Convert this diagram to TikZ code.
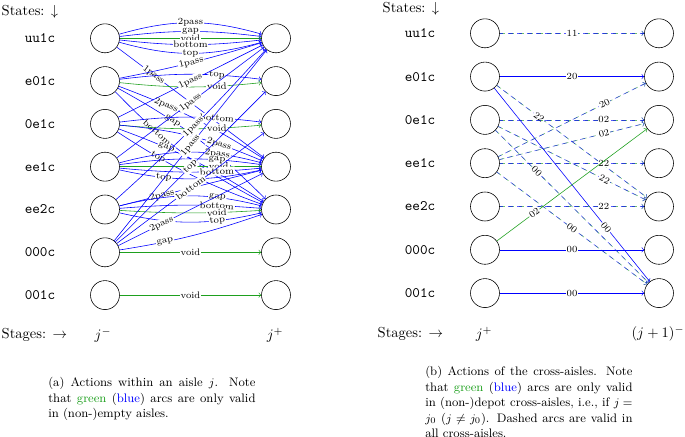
\documentclass[tikz,border=0pt]{standalone}
\usepackage{amsmath}
\definecolor{mygreen}{RGB}{30,160,30}
\begin{document}
\begin{tikzpicture}[x=0.69pt,y=-0.69pt,
  st/.style={circle,draw,minimum size=20pt,inner sep=0pt},
  stname/.style={font=\ttfamily,inner sep=1pt},
  txt/.style={inner sep=1pt},
  lbl/.style={font=\fontsize{6.5}{7}\selectfont,fill=white,inner sep=0.6pt,sloped},
  bl/.style={->,draw=blue},
  gr/.style={->,draw=mygreen},
  dsh/.style={->,draw=blue,draw opacity=0.65,dash pattern=on 3.5pt off 3pt,dash phase=1pt,
    preaction={draw=mygreen,draw opacity=0.65,dash pattern=on 3.5pt off 3pt,dash phase=0pt}},
  captext/.style={anchor=north west,inner sep=0pt,text width=143pt,align=justify,font=\fontsize{8.5}{10.7}\selectfont}
]
\useasboundingbox (0,0) rectangle (685,437);

% ---------- captions and texts ----------
\node[captext] (capa) at (48,377) {(a) Actions within an aisle $j$. Note that \textcolor{mygreen}{green} (\textcolor{blue}{blue}) arcs are only valid in (non-)empty aisles.};
\node[captext] (capb) at (425,366) {(b) Actions of the cross-aisles. Note that \textcolor{mygreen}{green} (\textcolor{blue}{blue}) arcs are only valid\linebreak in (non-)depot cross-aisles, i.e., if $j =$\linebreak $j_0$ ($j \neq j_0$). Dashed arcs are valid in\linebreak all cross-aisles.};

\node[txt,anchor=west] (stA) at (0,12) {States: $\downarrow$};
\node[txt,anchor=west] (sgA) at (0,335) {Stages: $\rightarrow$};
\node[txt] (jm) at (103,335) {$j^-$};
\node[txt] (jp) at (275,335) {$j^+$};
\node[txt,anchor=west] (stB) at (381,9) {States: $\downarrow$};
\node[txt,anchor=west] (sgB) at (376,334) {Stages: $\rightarrow$};
\node[txt] (jp2) at (484,334) {$j^+$};
\node[txt] (jn) at (658,334) {$(j+1)^-$};

% ---------- (a) ----------
\node[stname] (ta1) at (40,38.3) {uu1c};
\node[stname] (ta2) at (40,81.1) {e01c};
\node[stname] (ta3) at (40,123.9) {0e1c};
\node[stname] (ta4) at (40,166.7) {ee1c};
\node[stname] (ta5) at (40,209.5) {ee2c};
\node[stname] (ta6) at (40,252.3) {000c};
\node[stname] (ta7) at (40,295.1) {001c};

\node[st] (ai1) at (105,38.3) {};
\node[st] (ai2) at (105,81.1) {};
\node[st] (ai3) at (105,123.9) {};
\node[st] (ai4) at (105,166.7) {};
\node[st] (ai5) at (105,209.5) {};
\node[st] (ai6) at (105,252.3) {};
\node[st] (ai7) at (105,295.1) {};
\node[st] (ao1) at (276,38.3) {};
\node[st] (ao2) at (276,81.1) {};
\node[st] (ao3) at (276,123.9) {};
\node[st] (ao4) at (276,166.7) {};
\node[st] (ao5) at (276,209.5) {};
\node[st] (ao6) at (276,252.3) {};
\node[st] (ao7) at (276,295.1) {};

% 001c
\draw[gr] (ai7) -- node[lbl]{void} (ao7);
% uu1c
\draw[bl] (ai1) to[bend left=16] node[lbl]{2pass} (ao1);
\draw[bl] (ai1) to[bend left=7] node[lbl]{gap} (ao1);
\draw[gr] (ai1) -- node[lbl]{void} (ao1);
\draw[bl] (ai1) to[bend right=6.5] node[lbl]{bottom} (ao1);
\draw[bl] (ai1) to[bend right=15.5] node[lbl]{top} (ao1);
\draw[bl] (ai1) -- node[lbl,pos=0.25]{1pass} (ao4);
% e01c
\draw[bl] (ai2) to[bend right=3] node[lbl]{1pass} (ao1);
\draw[bl] (ai2) to[bend left=7] node[lbl,pos=0.7]{top} (ao2);
\draw[gr] (ai2) to[bend right=6] node[lbl,pos=0.7]{void} (ao2);
\draw[bl] (ai2) to[bend left=6] node[lbl,pos=0.3]{2pass} (ao4);
\draw[bl] (ai2) to[bend left=8] node[lbl,pos=0.33]{gap} (ao5);
\draw[bl] (ai2) to[bend right=9] node[lbl,pos=0.3]{bottom} (ao5);
% 0e1c
\draw[bl] (ai3) -- node[lbl]{1pass} (ao1);
\draw[bl] (ai3) to[bend left=7] node[lbl,pos=0.7]{bottom} (ao3);
\draw[gr] (ai3) to[bend right=5] node[lbl,pos=0.7]{void} (ao3);
\draw[bl] (ai3) to[bend left=9] node[lbl,pos=0.7]{2pass} (ao4);
\draw[bl] (ai3) to[bend left=6.5] node[lbl,pos=0.3]{gap} (ao5);
\draw[bl] (ai3) to[bend right=6.5] node[lbl,pos=0.28]{top} (ao5);
% ee1c
\draw[bl] (ai4) -- node[lbl]{1pass} (ao1);
\draw[bl] (ai4) to[bend left=15] node[lbl,pos=0.7]{2pass} (ao4);
\draw[bl] (ai4) to[bend left=8] node[lbl,pos=0.7]{gap} (ao4);
\draw[gr] (ai4) -- node[lbl,pos=0.7]{void} (ao4);
\draw[bl] (ai4) to[bend right=5.5] node[lbl,pos=0.7]{bottom} (ao4);
\draw[bl] (ai4) to[bend right=12.5] node[lbl,pos=0.3]{top} (ao4);
% ee2c
\draw[bl] (ai5) to[bend right=3] node[lbl]{1pass} (ao1);
\draw[bl] (ai5) -- node[lbl,pos=0.3]{2pass} (ao4);
\draw[bl] (ai5) to[bend left=14] node[lbl,pos=0.7]{gap} (ao5);
\draw[bl] (ai5) to[bend left=4.5] node[lbl,pos=0.7]{bottom} (ao5);
\draw[gr] (ai5) to[bend right=3.5] node[lbl,pos=0.7]{void} (ao5);
\draw[bl] (ai5) to[bend right=13] node[lbl,pos=0.7]{top} (ao5);
% 000c
\draw[bl] (ai6) -- node[lbl]{1pass} (ao1);
\draw[bl] (ai6) -- node[lbl]{top} (ao2);
\draw[bl] (ai6) -- node[lbl]{bottom} (ao3);
\draw[bl] (ai6) -- node[lbl,pos=0.3]{2pass} (ao4);
\draw[bl] (ai6) to[bend right=5] node[lbl,pos=0.3]{gap} (ao5);
\draw[gr] (ai6) -- node[lbl]{void} (ao6);

% ---------- (b) ----------
\node[stname] (tb1) at (420,33.3) {uu1c};
\node[stname] (tb2) at (420,76.6) {e01c};
\node[stname] (tb3) at (420,119.9) {0e1c};
\node[stname] (tb4) at (420,163.2) {ee1c};
\node[stname] (tb5) at (420,206.5) {ee2c};
\node[stname] (tb6) at (420,249.8) {000c};
\node[stname] (tb7) at (420,293.1) {001c};

\node[st] (bi1) at (485,33.3) {};
\node[st] (bi2) at (485,76.6) {};
\node[st] (bi3) at (485,119.9) {};
\node[st] (bi4) at (485,163.2) {};
\node[st] (bi5) at (485,206.5) {};
\node[st] (bi6) at (485,249.8) {};
\node[st] (bi7) at (485,293.1) {};
\node[st] (bo1) at (659,33.3) {};
\node[st] (bo2) at (659,76.6) {};
\node[st] (bo3) at (659,119.9) {};
\node[st] (bo4) at (659,163.2) {};
\node[st] (bo5) at (659,206.5) {};
\node[st] (bo6) at (659,249.8) {};
\node[st] (bo7) at (659,293.1) {};

\draw[bl] (bi7) -- node[lbl]{00} (bo7);
\draw[bl] (bi6) -- node[lbl]{00} (bo6);
\draw[bl] (bi2) -- node[lbl]{20} (bo2);
\draw[dsh] (bi1) -- node[lbl]{11} (bo1);
\draw[dsh] (bi2) -- node[lbl,pos=0.28]{22} (bo5);
\draw[bl] (bi2) -- node[lbl,pos=0.72]{00} (bo7);
\draw[dsh] (bi3) -- node[lbl,pos=0.72]{02} (bo3);
\draw[dsh] (bi3) -- node[lbl,pos=0.72]{22} (bo5);
\draw[dsh] (bi3) -- node[lbl,pos=0.27]{00} (bo7);
\draw[dsh] (bi4) -- node[lbl,pos=0.72]{20} (bo2);
\draw[dsh] (bi4) -- node[lbl,pos=0.72]{02} (bo3);
\draw[dsh] (bi4) -- node[lbl,pos=0.72]{22} (bo4);
\draw[dsh] (bi4) -- node[lbl]{00} (bo7);
\draw[dsh] (bi5) -- node[lbl,pos=0.72]{22} (bo5);
\draw[gr] (bi6) -- node[lbl,pos=0.25]{02} (bo3);
\end{tikzpicture}
\end{document}
